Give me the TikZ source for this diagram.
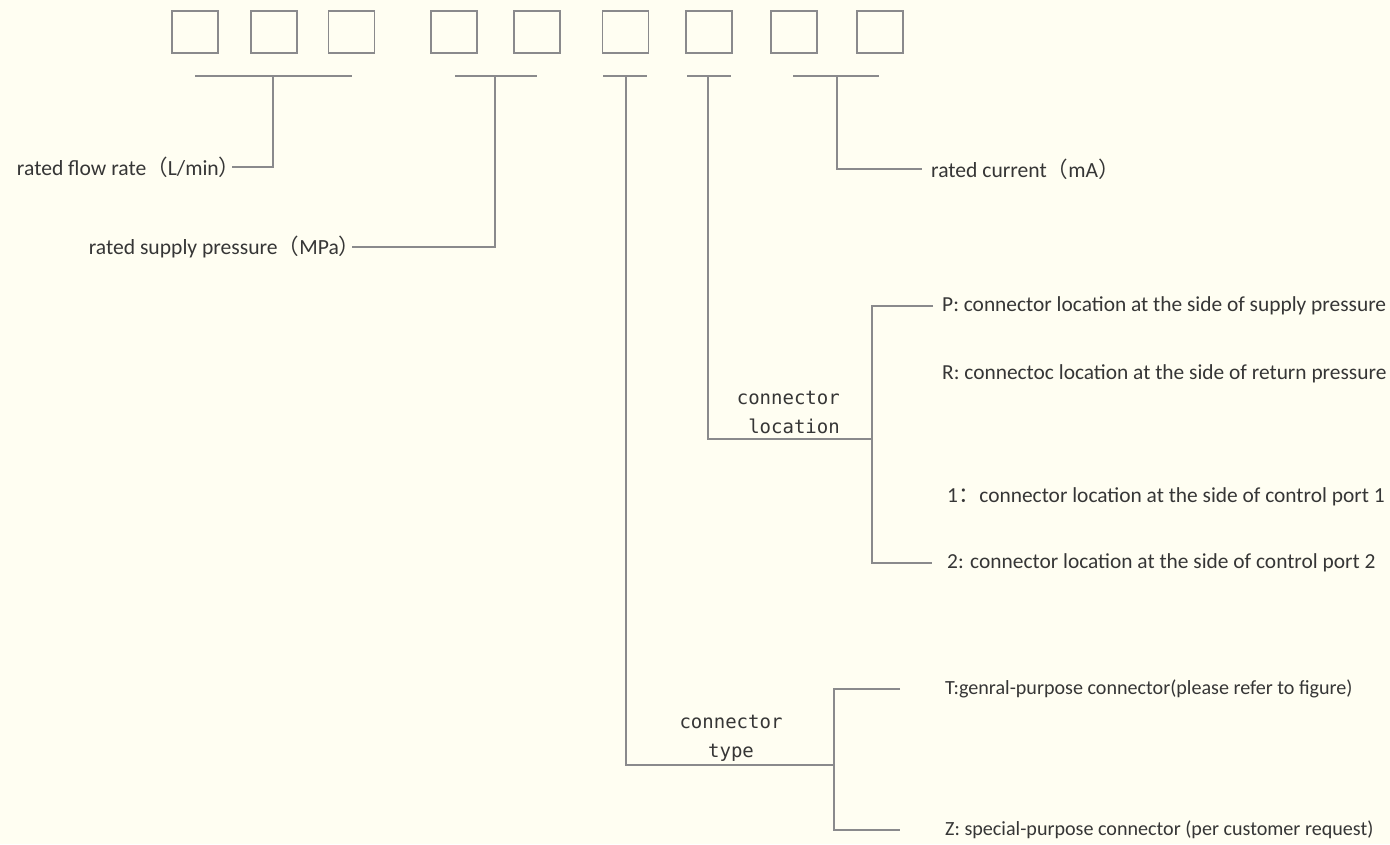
\documentclass[tikz,border=0pt]{standalone}
\usepackage{fontspec}
\setmainfont{Carlito}
\setmonofont{DejaVu Sans Mono}
\newfontfamily\cjk{Noto Sans CJK SC}
\newcommand\lpar{{\cjk（}}
\newcommand\rpar{{\cjk）}\kern-0.4em}
\definecolor{paper}{HTML}{FFFEF2}
\definecolor{rule}{HTML}{8A8A8C}
\definecolor{ink}{HTML}{363636}
\begin{document}
\begin{tikzpicture}[x=1pt,y=-1pt,
    digit/.style={draw=rule, line width=1.8pt, minimum width=46pt, minimum height=42pt, inner sep=0pt},
    lbl/.style={text=ink, font=\fontsize{21.6}{25}\selectfont, inner sep=0pt},
    opt/.style={lbl, anchor=west, inner xsep=#1},
    opt/.default=0pt,
    big/.style={font=\fontsize{21.4}{25}\selectfont},
    small/.style={font=\fontsize{20.1}{25}\selectfont},
    tag/.style={text=ink, font=\ttfamily\fontsize{19}{29}\selectfont, inner sep=0pt},
    lead/.style={draw=rule, line width=1.8pt}]
    \fill[paper] (0,0) rectangle (1390,844);
    \useasboundingbox (0,0) rectangle (1390,844);

    % code boxes
    \foreach \n/\x in {1/195,2/274,3/351.5,4/454,5/537,6/625.5,7/709,8/794,9/880}
        \node[digit] (b\n) at (\x,32) {};

    % brackets under the boxes
    \coordinate (fl) at (195,76); \coordinate (fr) at (352,76); \coordinate (ft) at (273,76);
    \coordinate (pl) at (455,76); \coordinate (pr) at (537,76); \coordinate (pt) at (495,76);
    \coordinate (ll) at (603,76); \coordinate (lr) at (647,76); \coordinate (lt) at (626,76);
    \coordinate (kl) at (687,76); \coordinate (kr) at (731,76); \coordinate (kt) at (708,76);
    \coordinate (cl) at (793,76); \coordinate (cr) at (879,76); \coordinate (ct) at (837,76);
    \coordinate (kj) at (872,439);
    \coordinate (tj) at (834,765);

    % labels
    \node[lbl, anchor=east] (flow) at (232,167) {rated flow rate\lpar L/min\rpar};
    \node[lbl, anchor=east] (pres) at (352,247) {rated supply pressure\lpar MPa\rpar};
    \node[opt=9pt] (curr) at (922,169) {rated current\lpar mA\rpar};

    \node[opt=9pt, big] (locP) at (933,306) {P: connector location at the side of supply pressure};
    \node[opt, big] (locR) at (942,374) {R: connectoc location at the side of return pressure};
    \node[opt, big] (loc1) at (947,497) {1{\cjk：}connector location at the side of control port 1};
    \node[opt=15pt, big] (loc2) at (932,563) {2: connector location at the side of control port 2};
    \node[tag, anchor=east, align=right] (loctag) at (840,412) {connector\\location};

    \node[opt=45pt, small] (typT) at (900,689) {T:genral-purpose connector(please refer to figure)};
    \node[opt=45pt, small] (typZ) at (900,830) {Z: special-purpose connector (per customer request)};
    \node[tag, align=center] (typtag) at (731,738) {connector\\type};

    % leads
    \draw[lead] (fl) -- (fr); \draw[lead] (ft) |- (flow.east);
    \draw[lead] (pl) -- (pr); \draw[lead] (pt) |- (pres.east);
    \draw[lead] (cl) -- (cr); \draw[lead] (ct) |- (curr.west);
    \draw[lead] (kl) -- (kr); \draw[lead] (kt) |- (kj);
    \draw[lead] (locP.west) -| (kj) |- (loc2.west);
    \draw[lead] (ll) -- (lr); \draw[lead] (lt) |- (tj);
    \draw[lead] (typT.west) -| (tj) |- (typZ.west);
\end{tikzpicture}
\end{document}
